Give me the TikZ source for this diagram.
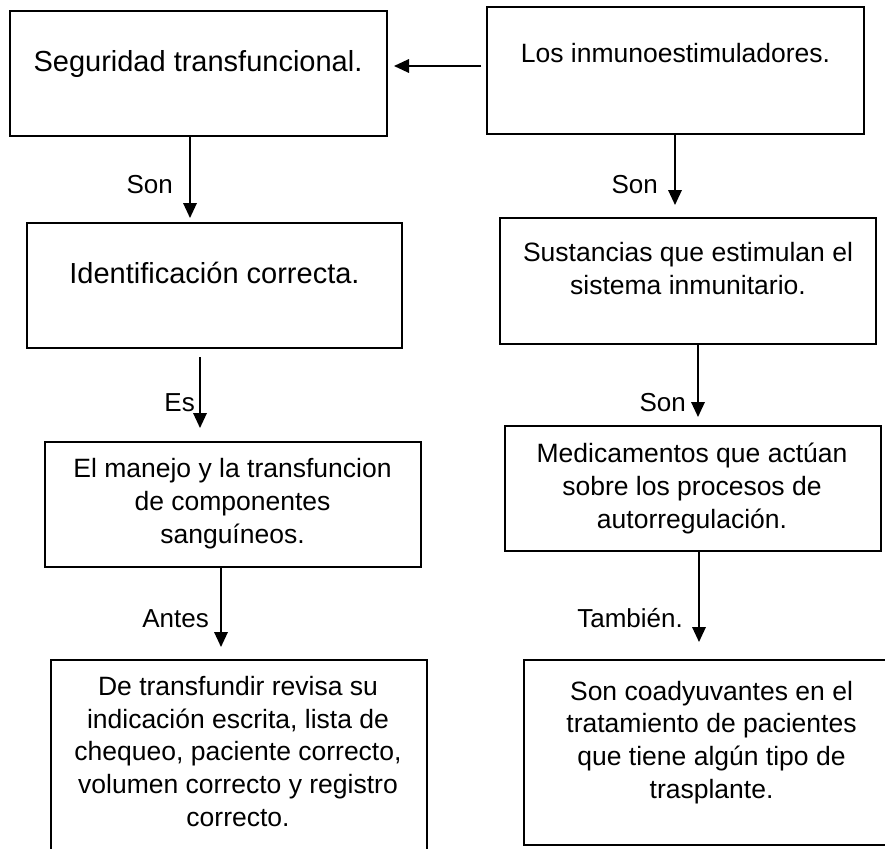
\documentclass[tikz,border=0pt]{standalone}
\usepackage{fontspec}
\setmainfont{Liberation Sans}
\usetikzlibrary{arrows.meta}
\tikzset{
  box/.style={draw, line width=2pt, inner sep=0pt, rectangle},
  txt/.style={align=center, inner sep=0pt, anchor=base, font=\fontsize{26.5}{32.8}\selectfont},
  bigtxt/.style={align=center, inner sep=0pt, anchor=base, font=\fontsize{29}{34}\selectfont},
  lab/.style={inner sep=0pt, anchor=base east, font=\fontsize{26}{30}\selectfont},
  arr/.style={line width=1.8pt, -{Triangle[length=15pt,width=13.5pt]}}
}
\begin{document}
\begin{tikzpicture}[x=1pt,y=-1pt]
\useasboundingbox (0,0) rectangle (885,848);
% boxes
\node[box, minimum width=377pt, minimum height=125pt] (b1) at (198.5,73.5) {};
\node[box, minimum width=377pt, minimum height=127pt] (b2) at (675.5,70.5) {};
\node[box, minimum width=375pt, minimum height=125pt] (b3) at (214.5,285.5) {};
\node[box, minimum width=376pt, minimum height=126pt] (b4) at (688,281) {};
\node[box, minimum width=376pt, minimum height=125pt] (b5) at (233,504.5) {};
\node[box, minimum width=376pt, minimum height=125pt] (b6) at (693,488.5) {};
\node[box, minimum width=376pt, minimum height=220pt] (b7) at (239,770) {};
\node[box, minimum width=376pt, minimum height=185pt] (b8) at (712,752.5) {};
% texts (anchor = baseline of the last line)
\node[bigtxt] (t1) at (198,72) {Seguridad transfuncional.};
\node[txt] (t2) at (675.5,63) {Los inmunoestimuladores.};
\node[bigtxt] (t3) at (214.5,283) {Identificación correcta.};
\node[txt] (t4) at (688,294.5) {Sustancias que estimulan el\\sistema inmunitario.};
\node[txt] (t5) at (232.5,543.5) {El manejo y la transfuncion\\de componentes\\sanguíneos.};
\node[txt] (t6) at (692,528) {Medicamentos que actúan\\sobre los procesos de\\autorregulación.};
\node[txt] (t7) at (238,826.5) {De transfundir revisa su\\indicación escrita, lista de\\chequeo, paciente correcto,\\volumen correcto y registro\\correcto.};
\node[txt] (t8) at (711.5,798.5) {Son coadyuvantes en el\\tratamiento de pacientes\\que tiene algún tipo de\\trasplante.};
% helper coordinates
\coordinate (h) at (0,66);
\coordinate (xa) at (190,0);
\coordinate (xb) at (675,0);
\coordinate (xc) at (200,0);
\coordinate (xd) at (698,0);
\coordinate (xe) at (221,0);
\coordinate (xf) at (699,0);
% connectors
\draw[arr, shorten <=5pt, shorten >=6pt] (b2.west |- h) -- (b1.east |- h);
\draw[arr, shorten >=4pt] (b1.south -| xa) -- (b3.north -| xa);
\draw[arr, shorten >=12pt] (b2.south -| xb) -- (b4.north -| xb);
\draw[arr, shorten <=8pt, shorten >=13pt] (b3.south -| xc) -- (b5.north -| xc);
\draw[arr, shorten >=8pt] (b4.south -| xd) -- (b6.north -| xd);
\draw[arr, shorten >=12pt] (b5.south -| xe) -- (b7.north -| xe);
\draw[arr, shorten >=17pt] (b6.south -| xf) -- (b8.north -| xf);
% labels
\node[lab] (l1) at (173,193) {Son};
\node[lab] (l2) at (658,193) {Son};
\node[lab] (l3) at (195,411) {Es};
\node[lab] (l4) at (686,411) {Son};
\node[lab] (l5) at (209,627) {Antes};
\node[lab] (l6) at (683,627) {También.};
\end{tikzpicture}
\end{document}
